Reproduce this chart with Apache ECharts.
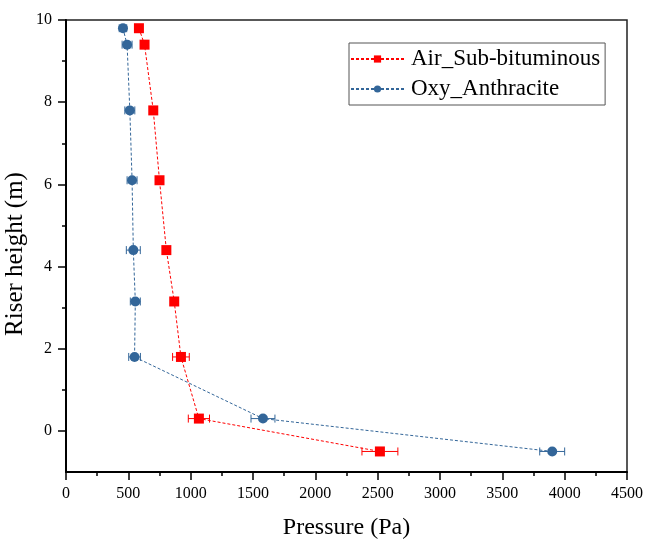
<!DOCTYPE html>
<html>
<head>
<meta charset="utf-8">
<script src="https://cdn.jsdelivr.net/npm/echarts@6/dist/echarts.min.js"></script>
<style>html,body{margin:0;padding:0;background:#fff}#c{width:648px;height:543px}</style>
</head>
<body>
<div id="c"></div>
<script>
var heights = [9.8, 9.4, 7.8, 6.1, 4.4, 3.15, 1.8, 0.3, -0.5];
var airPressure = [585, 630, 700, 750, 805, 868, 922, 1066, 2518];
var airError = [0, 0, 0, 0, 25, 0, 67, 85, 144];
var oxyPressure = [457, 490, 512, 530, 540, 556, 550, 1580, 3900];
var oxyError = [30, 40, 40, 40, 56, 40, 47, 96, 100];
var yMajorTicks = [0, 2, 4, 6, 8, 10];
var yMinorTicks = [1, 3, 5, 7, 9];
var seriesNames = ['Air_Sub-bituminous', 'Oxy_Anthracite'];

var RED = '#ff0000', BLUE = '#336699';
var FONT = '"Liberation Serif","Times New Roman",serif';

function pts(xs) { return xs.map(function (x, i) { return [x, heights[i]]; }); }
function errPts(xs, es) { return xs.map(function (x, i) { return [x, heights[i], es[i]]; }); }

function errRender(color) {
  return function (params, api) {
    var x = api.value(0), y = api.value(1), e = api.value(2);
    if (!e) return null;
    var a = api.coord([x - e, y]), b = api.coord([x + e, y]);
    var h = 4;
    var st = { stroke: color, lineWidth: 1, fill: null };
    return { type: 'group', children: [
      { type: 'line', shape: { x1: a[0], y1: a[1], x2: b[0], y2: b[1] }, style: st },
      { type: 'line', shape: { x1: a[0], y1: a[1] - h, x2: a[0], y2: a[1] + h }, style: st },
      { type: 'line', shape: { x1: b[0], y1: b[1] - h, x2: b[0], y2: b[1] + h }, style: st }
    ]};
  };
}

var chart = echarts.init(document.getElementById('c'), null, { renderer: 'canvas' });
chart.setOption({
  backgroundColor: '#fff',
  animation: false,
  textStyle: { fontFamily: FONT },
  grid: { left: 66, right: 21, top: 20, bottom: 71, containLabel: false, outerBoundsMode: 'none', show: true, borderColor: '#222', borderWidth: 1.5, backgroundColor: 'transparent' },
  legend: {
    data: seriesNames,
    orient: 'vertical',
    left: 349, top: 43,
    itemWidth: 53, itemHeight: 9, itemGap: 6,
    padding: [4, 5, 4, 1],
    borderColor: '#555', borderWidth: 1,
    textStyle: { fontFamily: FONT, fontSize: 23, color: '#000', lineHeight: 24, padding: [0, 0, 0, 2] }
  },
  xAxis: {
    type: 'value', min: 0, max: 4500, interval: 500,
    name: 'Pressure (Pa)', nameLocation: 'middle', nameGap: 44,
    nameTextStyle: { fontFamily: FONT, fontSize: 24, color: '#000' },
    axisLine: { show: true, onZero: false, lineStyle: { color: '#000', width: 2 } },
    axisTick: { show: true, inside: false, length: 8, lineStyle: { color: '#000', width: 1.5 } },
    minorTick: { show: true, splitNumber: 2, length: 4, lineStyle: { color: '#000', width: 1.5 } },
    axisLabel: { fontFamily: FONT, fontSize: 16, color: '#000', margin: 14, formatter: function (v) { return String(v); } },
    splitLine: { show: false }
  },
  yAxis: [{
    type: 'value', min: -1, max: 10,
    name: 'Riser height (m)', nameLocation: 'middle', nameGap: 38, nameMoveOverlap: false,
    nameTextStyle: { fontFamily: FONT, fontSize: 25, color: '#000', padding: [0, 16, 0, 0] },
    axisLine: { show: true, onZero: false, lineStyle: { color: '#000', width: 2 } },
    axisTick: { show: true, inside: false, length: 8, customValues: yMajorTicks, lineStyle: { color: '#000', width: 1.5 } },
    axisLabel: { fontFamily: FONT, fontSize: 16, color: '#000', margin: 14, customValues: yMajorTicks, formatter: function (v) { return String(v); } },
    splitLine: { show: false }
  }, {
    type: 'value', min: -1, max: 10, position: 'left',
    axisLine: { show: false },
    axisTick: { show: true, inside: false, length: 4, customValues: yMinorTicks, lineStyle: { color: '#000', width: 1.5 } },
    axisLabel: { show: false, customValues: yMinorTicks },
    splitLine: { show: false }
  }],
  series: [
    { name: 'airErr', type: 'custom', renderItem: errRender(RED), data: errPts(airPressure, airError), z: 2, silent: true },
    { name: 'oxyErr', type: 'custom', renderItem: errRender(BLUE), data: errPts(oxyPressure, oxyError), z: 2, silent: true },
    {
      name: seriesNames[0], type: 'line', data: pts(airPressure),
      symbol: 'rect', symbolSize: 10, color: RED,
      itemStyle: { color: RED },
      lineStyle: { color: RED, width: 1, type: [3, 2] },
      z: 3
    },
    {
      name: seriesNames[1], type: 'line', data: pts(oxyPressure),
      symbol: 'circle', symbolSize: 10, color: BLUE,
      itemStyle: { color: BLUE },
      lineStyle: { color: BLUE, width: 1, type: [3, 2] },
      z: 3
    }
  ]
});
</script>
</body>
</html>
